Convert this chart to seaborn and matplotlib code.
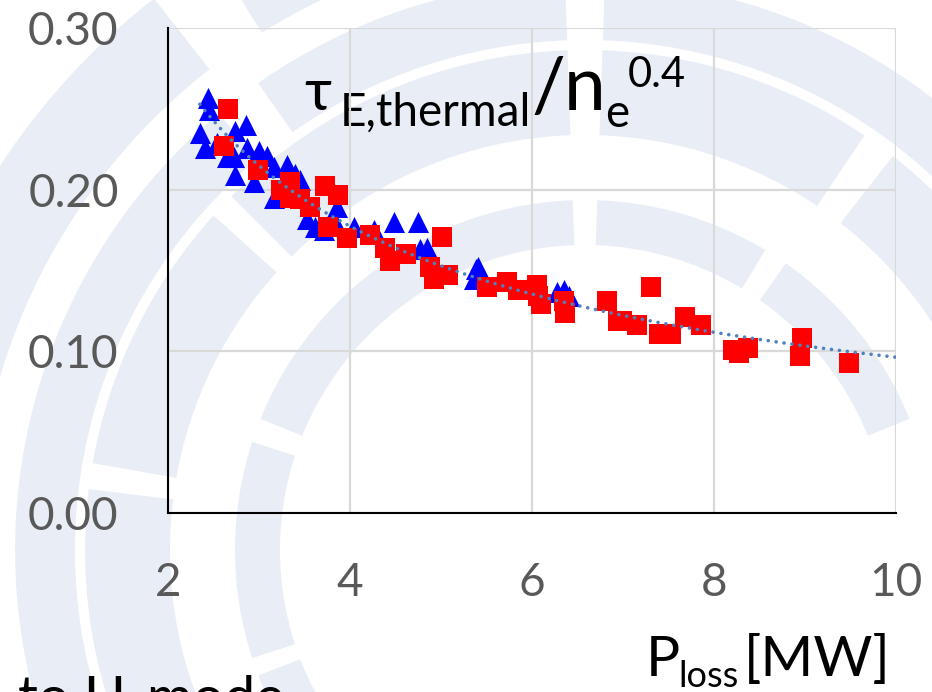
import numpy as np
import pandas as pd
import matplotlib
matplotlib.use("Agg")
import matplotlib.pyplot as plt
from matplotlib.patches import Wedge
import seaborn as sns

# ---------------- data ----------------
blue_x = [2.44, 2.45, 2.35, 2.41, 2.54, 2.65, 2.74, 2.86, 2.72, 2.87, 2.74, 2.94,
          3.00, 3.09, 3.16, 3.31, 3.40, 3.45, 3.16, 3.38, 3.53, 3.62, 3.71, 3.86,
          3.82, 4.04, 4.26, 4.48, 4.75, 4.85, 4.77, 5.38, 5.41, 5.36, 6.27, 6.35, 6.41]
blue_y = [0.257, 0.249, 0.235, 0.226, 0.229, 0.220, 0.236, 0.240, 0.220, 0.226, 0.209, 0.205,
          0.224, 0.221, 0.214, 0.215, 0.210, 0.206, 0.195, 0.196, 0.182, 0.177, 0.175, 0.189,
          0.181, 0.177, 0.175, 0.180, 0.180, 0.164, 0.163, 0.151, 0.152, 0.145, 0.137, 0.138, 0.134]

red_x = [2.66, 2.61, 2.99, 3.24, 3.34, 3.34, 3.45, 3.56, 3.72, 3.87, 3.76, 3.97, 4.22,
         4.39, 4.44, 4.61, 5.01, 4.88, 4.92, 5.08, 5.50, 5.72, 5.85, 6.05, 6.07, 6.10,
         6.36, 6.35, 6.82, 6.95, 6.99, 7.15, 7.31, 7.40, 7.53, 7.68, 7.86, 8.21, 8.27,
         8.37, 8.97, 8.94, 9.48]
red_y = [0.250, 0.227, 0.212, 0.200, 0.205, 0.195, 0.194, 0.189, 0.202, 0.197, 0.177, 0.170, 0.172,
         0.164, 0.156, 0.160, 0.171, 0.152, 0.145, 0.147, 0.140, 0.143, 0.138, 0.141, 0.134, 0.129,
         0.124, 0.131, 0.131, 0.119, 0.119, 0.116, 0.140, 0.111, 0.111, 0.121, 0.116, 0.101, 0.099,
         0.102, 0.108, 0.097, 0.093]

x_ticks = [2, 4, 6, 8, 10]
x_minor = [3, 5, 7, 9]
y_ticks = [0.00, 0.10, 0.20, 0.30]
y_tick_labels = ["0.00", "0.10", "0.20", "0.30"]

# ---------------- style ----------------
sns.set_theme(style="white")
plt.rcParams["font.family"] = ["Lato", "DejaVu Sans"]

W, H = 932, 692
fig = plt.figure(figsize=(W / 100, H / 100), dpi=100, facecolor="white")

# background watermark (light concentric ring segments), pixel coords y-up
bg = fig.add_axes([0, 0, 1, 1], zorder=0)
bg.set_xlim(0, W)
bg.set_ylim(0, H)
bg.axis("off")
wm = "#E9EEF6"
cx, cy = 585, H - 550
bands = [
    (305, 350, [(22, 55), (59, 88), (92, 158), (162, 198), (201, 250)]),
    (415, 500, [(20, 52), (56, 88), (92, 135), (138, 170), (173, 215)]),
    (510, 570, [(30, 88), (92, 125), (130, 200)]),
    (610, 700, [(95, 122), (128, 185)]),
]
for r_in, r_out, segs in bands:
    for t1, t2 in segs:
        bg.add_patch(Wedge((cx, cy), r_out, t1, t2, width=r_out - r_in,
                           facecolor=wm, edgecolor="none"))

# main axes
ax = fig.add_axes([168 / W, 1 - 513 / H, (896 - 168) / W, (513 - 28) / H], zorder=1)
ax.set_facecolor("none")

blue_df = pd.DataFrame({"P": blue_x, "tau": blue_y})
red_df = pd.DataFrame({"P": red_x, "tau": red_y})

sns.scatterplot(data=blue_df, x="P", y="tau", marker="^", s=230, color="#0000FF",
                linewidth=0, ax=ax, zorder=3, clip_on=False)
sns.scatterplot(data=red_df, x="P", y="tau", marker="s", s=215, color="#FF0000",
                linewidth=0, ax=ax, zorder=4, clip_on=False)

# power-law trend line fitted to all points
all_x = np.array(blue_x + red_x)
all_y = np.array(blue_y + red_y)
b, log_a = np.polyfit(np.log(all_x), np.log(all_y), 1)
fit_x = np.linspace(all_x.min(), 10, 300)
fit_df = pd.DataFrame({"P": fit_x, "tau": np.exp(log_a) * fit_x ** b})
sns.lineplot(data=fit_df, x="P", y="tau", ax=ax, color="#4F81BD", linewidth=2.6,
             linestyle=(0, (0.01, 2.2)), zorder=5)
for ln in ax.lines:
    ln.set_dash_capstyle("round")

ax.set_xlim(2, 10)
ax.set_ylim(0, 0.30)
ax.set_xticks(x_ticks)
ax.set_xticks(x_minor, minor=True)
ax.set_xticklabels([str(v) for v in x_ticks])
ax.set_yticks(y_ticks)
ax.set_yticklabels(y_tick_labels)
ax.set_xlabel("")
ax.set_ylabel("")

ax.grid(True, which="major", color="#D9D9D9", linewidth=1.6)
ax.set_axisbelow(True)
for side in ["top", "right"]:
    ax.spines[side].set_visible(False)
for side in ["left", "bottom"]:
    ax.spines[side].set_color("black")
    ax.spines[side].set_linewidth(1.5)
    ax.spines[side].set_zorder(2)

ax.tick_params(axis="both", which="both", direction="out", color="black", width=1.5,
               labelcolor="#595959", labelsize=33)
ax.tick_params(axis="y", length=9.5, pad=26)
ax.tick_params(axis="x", which="both", length=8.5, pad=27)

# annotation  tau_{E,thermal} / n_e^{0.4}
def put(x, y_down, s, size):
    bg.text(x, H - y_down, s, fontsize=size, color="black", ha="left", va="baseline",
            zorder=6)

put(304, 110, "τ", 42)
put(340, 126, "E,thermal", 33)
put(531, 112, "/", 54)
put(564, 110, "n", 54)
put(605, 127, "e", 33)
put(628, 87, "0.4", 30)

# axis label  P_loss[MW]
put(646, 676, "P", 41)
put(678, 687, "loss", 26)
put(744, 676, "[MW]", 41)

# partially visible slide text at the bottom
put(18, 716, "to H-mode", 40)

fig.savefig("out.png", dpi=100, facecolor="white")
